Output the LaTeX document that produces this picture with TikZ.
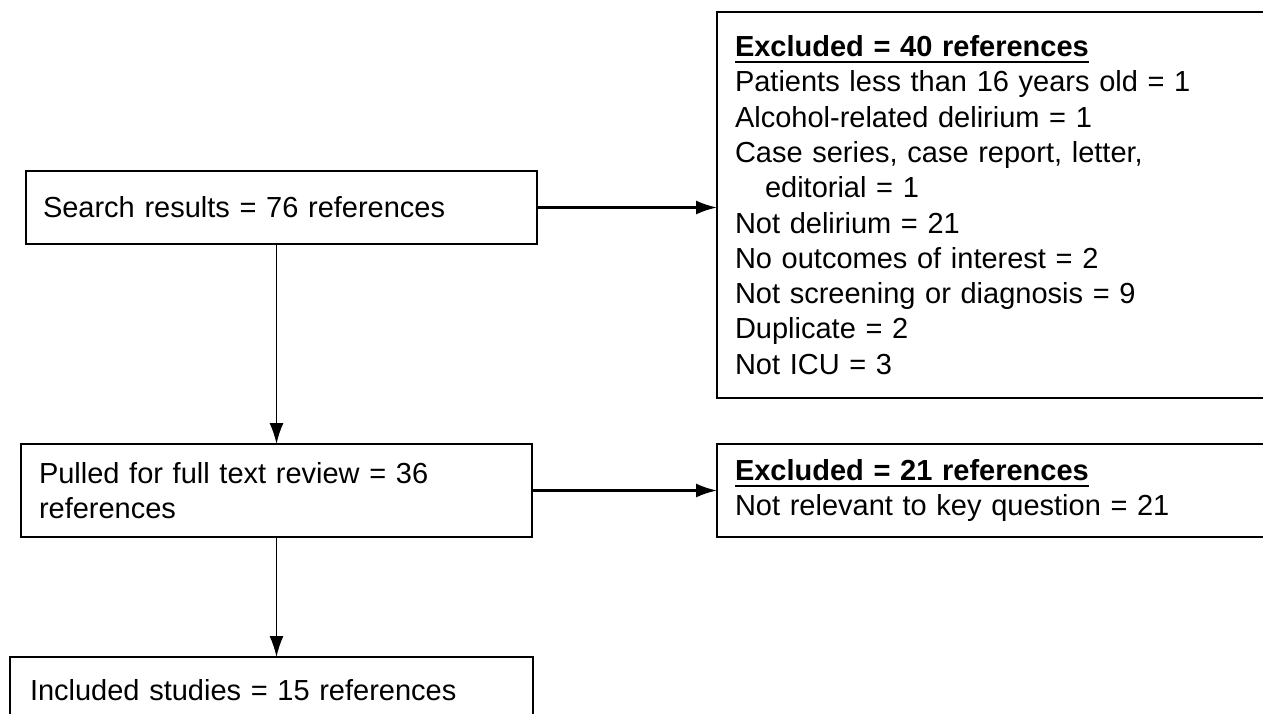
\documentclass[tikz,border=0pt]{standalone}
\usepackage{fontspec}
\setmainfont{Liberation Sans}
\usetikzlibrary{arrows.meta}
\newcommand{\headline}[1]{\setbox0\hbox{\textbf{#1}}\rlap{\rule[-6.5pt]{\wd0}{2.2pt}}\box0}

\begin{document}
\begin{tikzpicture}[x=1pt, y=-1pt, font=\fontsize{29}{35.3}\selectfont,
	box/.style={draw, line width=2.5pt, anchor=north west, outer sep=0pt, inner xsep=18pt, inner ysep=0pt, align=left},
	flow/.style={line width=1.6pt, -{Latex[length=21pt, width=14pt]}}]
	\clip (0,0) rectangle (1263,713);
		\node[box, inner xsep=17pt, text width=477pt, minimum height=73pt] (search) at (26,171) {Search results = 76 references};
		\node[box, text width=475pt, minimum height=93pt] (pulled) at (21,444) {Pulled for full text review = 36\\references};
		\node[box, inner xsep=20pt, text width=483pt, minimum height=66pt] (included) at (10,657) {Included studies = 15 references};
		\node[box, text width=560pt, minimum height=386pt] (excla) at (717,12) {\headline{Excluded = 40 references}\\
			Patients less than 16 years old = 1\\
			Alcohol-related delirium = 1\\
			Case series, case report, letter,\\
			\hspace*{30pt}editorial = 1\\
			Not delirium = 21\\
			No outcomes of interest = 2\\
			Not screening or diagnosis = 9\\
			Duplicate = 2\\
			Not ICU = 3};
		\node[box, text width=560pt, minimum height=93pt] (exclb) at (717,444) {\headline{Excluded = 21 references}\\Not relevant to key question = 21};
			\draw[flow] (search.south -| pulled.north) -- (pulled.north);
			\draw[flow] (pulled.south) -- (pulled.south |- included.north);
			\draw[flow, line width=2.2pt] (search.east) -- (excla.west |- search.east);
			\draw[flow, line width=2.2pt] (pulled.east) -- (exclb.west);
\end{tikzpicture}
\end{document}
